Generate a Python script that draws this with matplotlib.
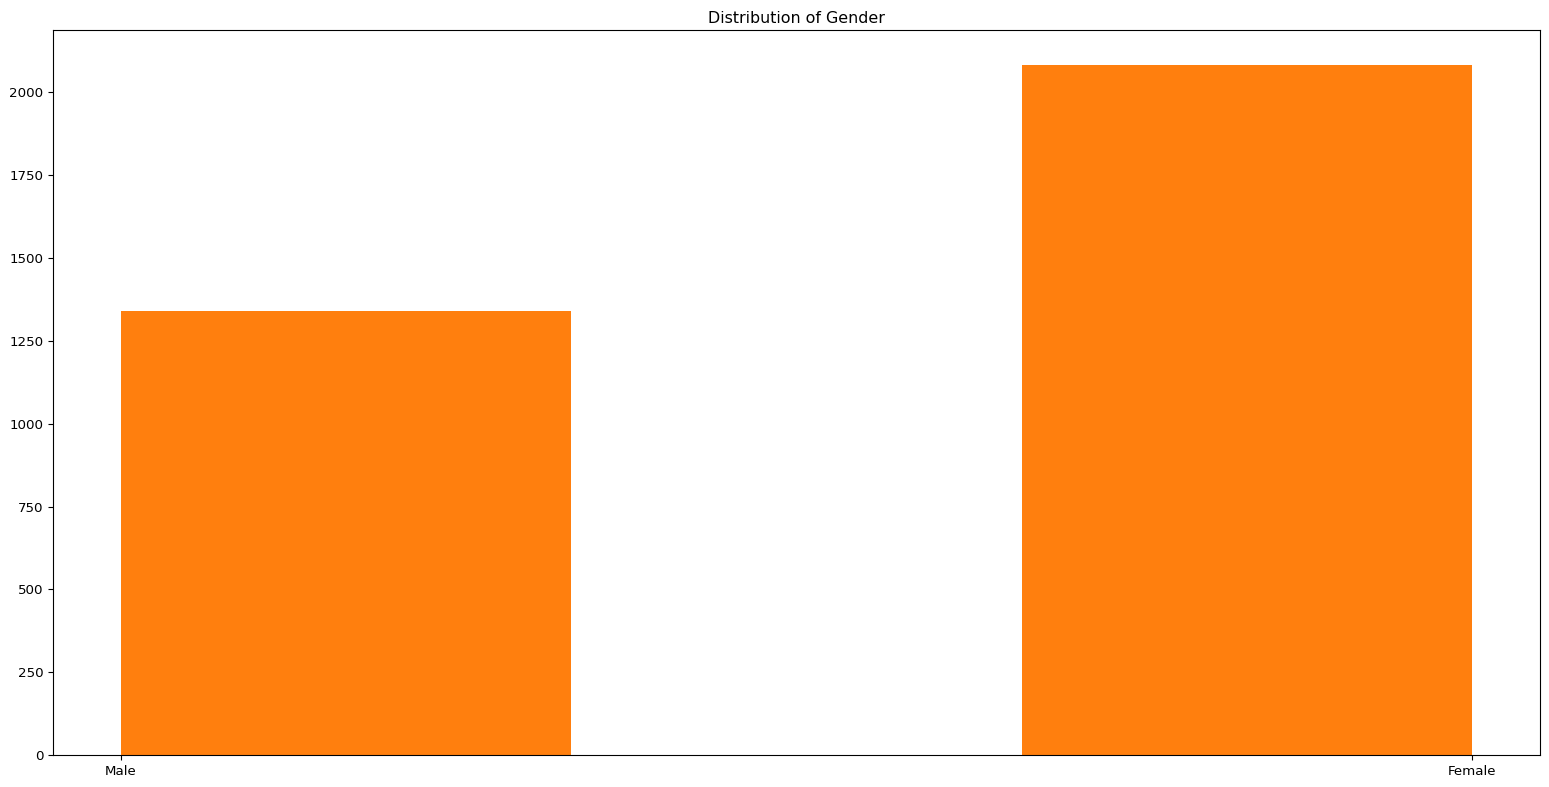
import numpy as np
import matplotlib
matplotlib.use("Agg")
import matplotlib.pyplot as plt

# gender counts
genders = ['Male', 'Female']
counts = [1341, 2084]

positions = np.arange(len(genders))

fig = plt.figure(figsize=(15.49, 7.87), dpi=100)
ax = fig.add_axes([53 / 1549, 1 - 755 / 787, (1540 - 53) / 1549, (755 - 30) / 787])

# histogram of the category codes, 3 bins like the original
ax.hist(positions, bins=3, weights=counts, color='#ff7f0e')

ax.set_xticks(positions)
ax.set_xticklabels(genders)
ax.set_title('Distribution of Gender', fontsize=11.4, pad=5)
ax.tick_params(labelsize=9.6)

fig.savefig('out.png', dpi=100)
